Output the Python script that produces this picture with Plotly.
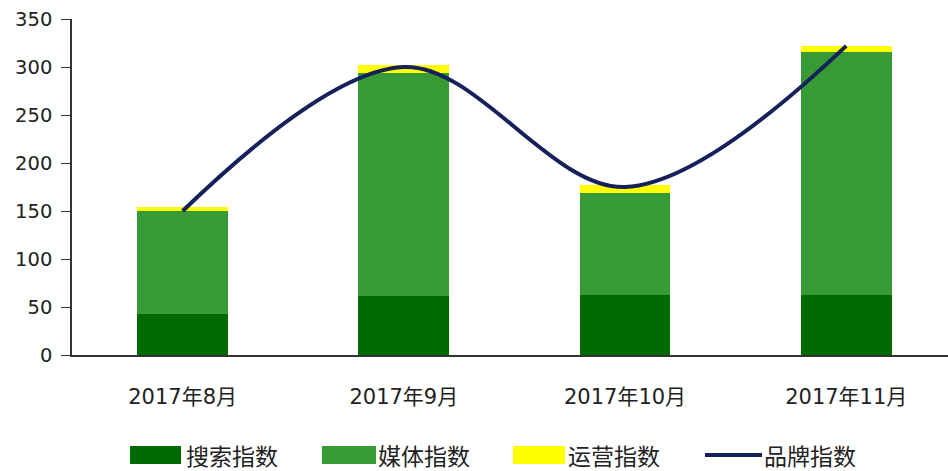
import plotly.graph_objects as go

months = ["2017年8月", "2017年9月", "2017年10月", "2017年11月"]
search_idx = [42.5, 61, 62.5, 62.5]
media_idx = [107, 233, 106, 253.5]
ops_idx = [4.5, 8, 8.5, 6]
brand_idx = [150, 300, 175, 322]

series_names = ["搜索指数", "媒体指数", "运营指数", "品牌指数"]
colors = ["#006A00", "#379A35", "#FFFF00", "#14215A"]

FONT = "'DejaVu Sans', 'Noto Sans CJK SC', sans-serif"

fig = go.Figure()
for name, vals, col in zip(series_names[:3], [search_idx, media_idx, ops_idx], colors[:3]):
    fig.add_trace(go.Bar(x=months, y=vals, name=name, marker=dict(color=col, line=dict(width=0)),
                         width=0.41, showlegend=False))
fig.add_trace(go.Scatter(x=months, y=brand_idx, name=series_names[3], mode="lines",
                         line=dict(color=colors[3], width=4, shape="spline", smoothing=1.0),
                         showlegend=False))

# custom legend (wide swatches)
legend_items = [
    (130, 181, 184),
    (322, 376, 376),
    (513, 565, 566),
    (705, 762, 762),
]
W, H = 948, 471
for i, (x0, x1, tx) in enumerate(legend_items):
    yc = 455
    if i < 3:
        fig.add_shape(type="rect", xref="paper", yref="paper",
                      x0=(x0 - 72) / 876, x1=(x1 - 72) / 876,
                      y0=(355 - (yc + 9)) / 336, y1=(355 - (yc - 9)) / 336,
                      fillcolor=colors[i], line=dict(width=0))
    else:
        fig.add_shape(type="line", xref="paper", yref="paper",
                      x0=(x0 - 72) / 876, x1=(x1 - 72) / 876,
                      y0=(355 - yc) / 336, y1=(355 - yc) / 336,
                      line=dict(color=colors[3], width=4))
    fig.add_annotation(xref="paper", yref="paper", x=(tx - 72) / 876, y=(355 - yc) / 336,
                       text=series_names[i], showarrow=False, xanchor="left", yanchor="middle",
                       font=dict(size=23, color="#222222", family="'Noto Sans CJK SC', sans-serif"))

fig.update_layout(
    barmode="stack",
    width=W, height=H,
    margin=dict(l=72, r=0, t=19, b=116),
    paper_bgcolor="white", plot_bgcolor="white",
    font=dict(family=FONT, size=19, color="#222222"),
    xaxis=dict(range=[-0.5, 3.46], showline=True, linecolor="#333333", linewidth=1.5,
               ticks="", showgrid=False, tickfont=dict(size=21),
               ticklabelstandoff=22),
    yaxis=dict(range=[0, 350], dtick=50, showline=True, linecolor="#333333", linewidth=1.5,
               ticks="outside", ticklen=9, tickcolor="#333333", showgrid=False, zeroline=False,
               tickfont=dict(size=19.5), ticklabelstandoff=5),
)
fig.write_html("out.html")
